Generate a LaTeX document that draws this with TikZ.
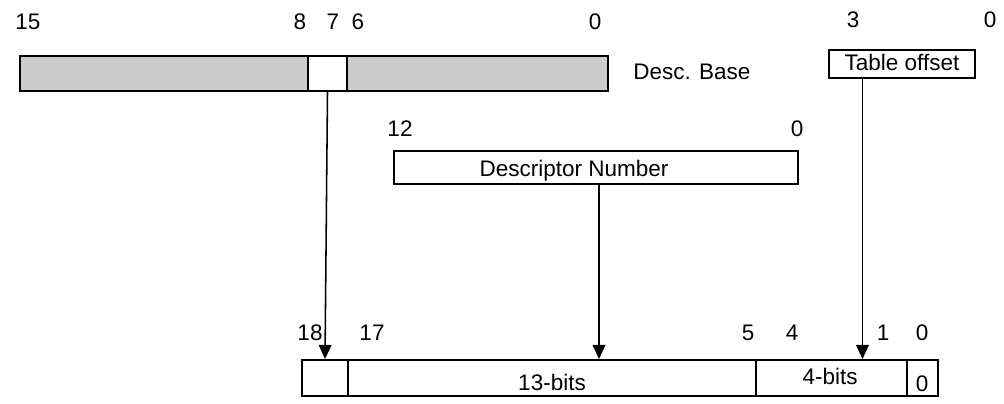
\documentclass[tikz,border=0pt]{standalone}
\usepackage{fontspec}
\setmainfont{Liberation Sans}
\usetikzlibrary{arrows.meta, positioning, calc}
\definecolor{cField}{RGB}{204,204,204}
\tikzset{
	field/.style   ={rectangle, draw=black, line width=1.4pt, inner sep=0pt, minimum height=0.875cm},
	gfield/.style  ={field, fill=cField},
	bitno/.style   ={inner sep=0pt, anchor=center},
	ptr/.style     ={-{Triangle[length=10pt, width=9pt]}, line width=1.1pt},
}
\begin{document}
\begin{tikzpicture}[x=0.025cm, y=-0.025cm, font=\fontsize{16}{19}\selectfont]
			\useasboundingbox (0,0) rectangle (1004,403);
			% descriptor base register
			\node[gfield, minimum width=7.2cm] (bhi) at (164,73.5) {};
			\node[field, minimum width=0.975cm] (bmid) at (327.5,73.5) {};
			\node[gfield, minimum width=6.525cm] (blo) at (477.5,73.5) {};
			\node[anchor=west, inner sep=0pt] (bname) at (633,72) {Desc. Base};
			% table offset and descriptor number
			\node[field, minimum width=3.65cm, minimum height=0.7cm] (toff) at (902,64) {};
			\node[inner sep=0pt] (tname) at (902,62) {Table offset};
			\node[field, minimum width=10.1cm, minimum height=0.825cm] (dnum) at (596,167.5) {};
			\node[inner sep=0pt] (dname) at (574,171) {Descriptor Number};
			% resulting address
			\node[field, minimum width=1.15cm, minimum height=0.9cm] (f18) at (325,378) {};
			\node[field, minimum width=10.2cm, minimum height=0.9cm] (f13) at (552,378) {};
			\node[field, minimum width=3.775cm, minimum height=0.9cm] (f4) at (831.5,378) {};
			\node[field, minimum width=0.775cm, minimum height=0.9cm] (f0) at (922.5,378) {};
			\node[inner sep=0pt] (l13) at (552,382) {13-bits};
			\node[inner sep=0pt] (l4) at (830,376) {4-bits};
			\node[inner sep=0pt] (l0) at (922,384) {0};
			% bit numbers
			\foreach \n/\x/\y/\t in {a/28/22/15, b/300/22/8, c/333/22/7, d/358/22/6, e/595/22/0,
				f/853/20/3, g/990/20/0, h/400/129/12, i/797/129/0,
				j/310/333/18, k/372/333/17, l/748/333/5, m/792/333/4, n/883/333/1, o/922/333/0}
				\node[bitno] (bit\n) at (\x,\y) {\t};
			% pointers
			\coordinate (tap) at ($(toff.south west)!0.233!(toff.south east)$);
			\coordinate (dtap) at ($(dnum.south)+(3,0)$);
			\draw[ptr] (bmid.south) -- (f18.north);
			\draw[ptr] (dtap) -- (dtap |- f13.north);
			\draw[ptr] (tap) -- (tap |- f4.north);
		\end{tikzpicture}
\end{document}
